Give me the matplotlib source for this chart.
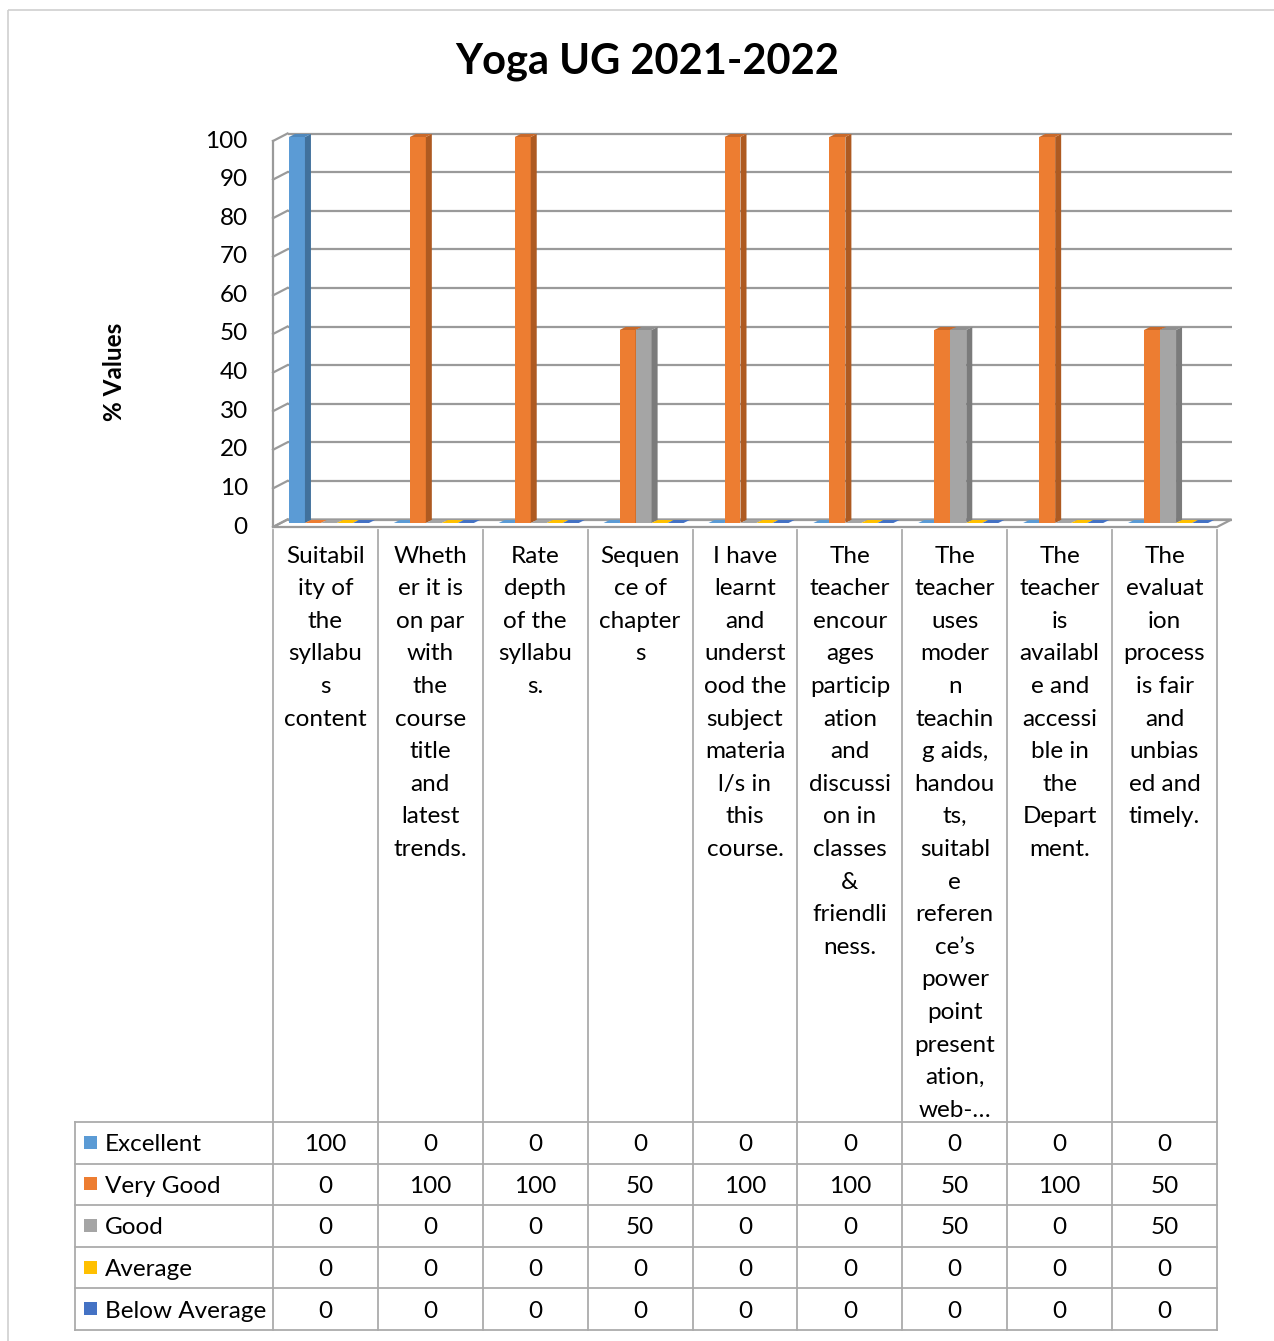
import matplotlib.pyplot as plt
from matplotlib.patches import Polygon, Rectangle

# chart data
categories = [
    "Suitabil\nity of\nthe\nsyllabu\ns\ncontent",
    "Wheth\ner it is\non par\nwith\nthe\ncourse\ntitle\nand\nlatest\ntrends.",
    "Rate\ndepth\nof the\nsyllabu\ns.",
    "Sequen\nce of\nchapter\ns",
    "I have\nlearnt\nand\nunderst\nood the\nsubject\nmateria\nl/s in\nthis\ncourse.",
    "The\nteacher\nencour\nages\nparticip\nation\nand\ndiscussi\non in\nclasses\n&\nfriendli\nness.",
    "The\nteacher\nuses\nmoder\nn\nteachin\ng aids,\nhandou\nts,\nsuitabl\ne\nreferen\nce\u2019s\npower\npoint\npresent\nation,\nweb-\u2026",
    "The\nteacher\nis\navailabl\ne and\naccessi\nble in\nthe\nDepart\nment.",
    "The\nevaluat\nion\nprocess\nis fair\nand\nunbias\ned and\ntimely.",
]
series_names = ["Excellent", "Very Good", "Good", "Average", "Below Average"]
excellent = [100, 0, 0, 0, 0, 0, 0, 0, 0]
very_good = [0, 100, 100, 50, 100, 100, 50, 100, 50]
good = [0, 0, 0, 50, 0, 0, 50, 0, 50]
average = [0, 0, 0, 0, 0, 0, 0, 0, 0]
below_average = [0, 0, 0, 0, 0, 0, 0, 0, 0]
yticks = [0, 10, 20, 30, 40, 50, 60, 70, 80, 90, 100]

all_series = [excellent, very_good, good, average, below_average]
front_cols = ["#5B9BD5", "#ED7D31", "#A5A5A5", "#FFC000", "#4472C4"]
side_cols = ["#41719C", "#AE5A21", "#7B7B7B", "#BC8C00", "#31538F"]
top_cols = ["#4F88BC", "#C9692A", "#8F8F8F", "#D9A400", "#3A63AA"]

plt.rcParams['font.family'] = ['Lato', 'DejaVu Sans']
FS = 17.5
GRID = "#9A9A9A"
TABLE = "#ABABAB"

W, H = 1274, 1341
fig = plt.figure(figsize=(W / 100, H / 100), dpi=100)

# overlay axes in pixel coordinates for frame, titles and table
ov = fig.add_axes([0, 0, 1, 1])
ov.set_xlim(0, W)
ov.set_ylim(H, 0)
ov.axis('off')
ov.add_patch(Rectangle((8, 10), W + 20, H + 20, fill=False, ec="#D0D0D0", lw=1.2))

ov.text(647, 62, "Yoga UG 2021-2022", ha='center', va='center',
        fontsize=30, fontweight='bold')
ov.text(115, 372, "% Values", ha='center', va='center', rotation=90,
        fontsize=FS, fontweight='bold')

# chart axes: x in category units, y in percent (front plane)
fx0, fx1, fy0, fy100 = 273, 1217, 527, 141
ax_right, ax_top = 1232, 133
pxx = (fx1 - fx0) / 9
pxy = (fy0 - fy100) / 100
ax = fig.add_axes([fx0 / W, 1 - fy0 / H, (ax_right - fx0) / W, (fy0 - ax_top) / H])
ax.set_xlim(0, (ax_right - fx0) / pxx)
ax.set_ylim(0, (fy0 - ax_top) / pxy)
ax.axis('off')

n = len(categories)
DX, DY = 14.5 / pxx, 7.5 / pxy
BW = 16 / pxx
SX, SY = 3.5 / pxx, 4 / pxy
BDX, BDY = 6 / pxx, 3 / pxy

# floor
ax.add_patch(Polygon([(0, 0), (n, 0), (n + DX, DY), (DX, DY)], closed=True,
                     fc="white", ec=GRID, lw=1.6, zorder=1, clip_on=False))
# walls / gridlines
for v in yticks:
    ax.plot([DX, n + DX], [v + DY, v + DY], color=GRID, lw=1.6, zorder=1,
            clip_on=False, solid_capstyle='butt')
    ax.plot([0, DX], [v, v + DY], color=GRID, lw=1.6, zorder=1, clip_on=False)
    ax.text(-0.24, v, str(v), ha='right', va='center', fontsize=FS)
ax.plot([0, 0], [0, 100], color=GRID, lw=1.6, zorder=1, clip_on=False)

# bars
for i in range(n):
    for j, vals in enumerate(all_series):
        v = vals[i]
        x = i + 0.5 - 2.5 * BW + SX + j * BW
        z = 3 + i * 10 + j
        y0 = SY
        y1 = SY + v
        if v > 0:
            ax.add_patch(Polygon([(x, y0), (x + BW, y0), (x + BW, y1), (x, y1)],
                                 closed=True, fc=front_cols[j], ec='none', zorder=z, clip_on=False))
            ax.add_patch(Polygon([(x + BW, y0), (x + BW + BDX, y0 + BDY),
                                  (x + BW + BDX, y1 + BDY), (x + BW, y1)],
                                 closed=True, fc=side_cols[j], ec='none', zorder=z, clip_on=False))
        ax.add_patch(Polygon([(x, y1), (x + BW, y1), (x + BW + BDX, y1 + BDY), (x + BDX, y1 + BDY)],
                             closed=True, fc=top_cols[j] if v > 0 else front_cols[j],
                             ec='none', zorder=z, clip_on=False))

# data table
row_top = 1122
row_h = 41.6
tab_left = 75
col_edges = [fx0 + k * pxx for k in range(n + 1)]
for k in range(len(series_names) + 1):
    y = row_top + k * row_h
    ov.plot([tab_left, fx1], [y, y], color=TABLE, lw=1.3)
ov.plot([tab_left, tab_left], [row_top, row_top + 5 * row_h], color=TABLE, lw=1.3)
for xe in col_edges:
    ov.plot([xe, xe], [530, row_top + 5 * row_h], color=TABLE, lw=1.3)

# category labels
line_h = 32.6
for i, lab in enumerate(categories):
    cx = (col_edges[i] + col_edges[i + 1]) / 2
    for k, line in enumerate(lab.split("\n")):
        ov.text(cx, 554 + k * line_h + 8.5, line, ha='center', va='baseline', fontsize=FS)

# table rows
for r, (name, vals) in enumerate(zip(series_names, all_series)):
    cy = row_top + (r + 0.5) * row_h
    ov.add_patch(Rectangle((84, cy - 7), 13, 13, fc=front_cols[r], ec='none'))
    ov.text(105, cy + 8.5, name, ha='left', va='baseline', fontsize=FS)
    for i, v in enumerate(vals):
        cx = (col_edges[i] + col_edges[i + 1]) / 2
        ov.text(cx, cy + 8.5, str(v), ha='center', va='baseline', fontsize=FS)

fig.savefig("out.png", dpi=100)
